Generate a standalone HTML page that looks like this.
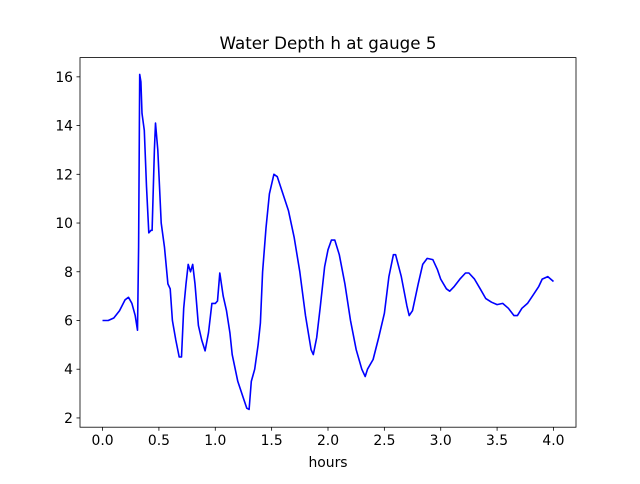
<!DOCTYPE html>
<html><head><meta charset="utf-8"><style>
body{margin:0;background:#fff;font-family:"DejaVu Sans","Liberation Sans",sans-serif;}
svg text{font-family:"DejaVu Sans","Liberation Sans",sans-serif;fill:#000;}
</style></head><body>
<svg id="chart" width="640" height="480" viewBox="0 0 640 480" xmlns="http://www.w3.org/2000/svg">
<rect width="640" height="480" fill="#fff"/>
<text x="328" y="49" font-size="16.7" text-anchor="middle">Water Depth h at gauge 5</text>
<g id="plot"></g>
<rect x="80" y="57.6" width="496" height="369.6" fill="none" stroke="#000" stroke-width="0.8"/>
<text x="328" y="467" font-size="13.9" text-anchor="middle">hours</text>
</svg>
<script>
const times=[0,0.05,0.1,0.15,0.2,0.23,0.26,0.29,0.31,0.32,0.33,0.34,0.35,0.37,0.39,0.41,0.43,0.44,0.46,0.47,0.49,0.52,0.55,0.58,0.6,0.62,0.65,0.68,0.70,0.72,0.74,0.76,0.78,0.80,0.82,0.85,0.88,0.91,0.94,0.97,1.0,1.02,1.04,1.07,1.1,1.13,1.15,1.2,1.25,1.28,1.30,1.32,1.35,1.38,1.40,1.42,1.45,1.48,1.52,1.55,1.6,1.65,1.7,1.75,1.8,1.85,1.87,1.9,1.93,1.97,2.0,2.03,2.06,2.1,2.15,2.2,2.25,2.3,2.33,2.35,2.4,2.45,2.5,2.54,2.58,2.6,2.65,2.7,2.72,2.75,2.8,2.84,2.88,2.93,2.97,3.0,3.05,3.08,3.12,3.17,3.22,3.25,3.3,3.35,3.4,3.45,3.5,3.55,3.6,3.65,3.68,3.72,3.77,3.82,3.87,3.9,3.95,4.0];
const depths=[6.0,6.0,6.1,6.4,6.85,6.95,6.7,6.2,5.6,9,16.1,15.8,14.5,13.8,11.5,9.6,9.7,9.7,13.0,14.1,13,10,9.0,7.5,7.3,6,5.2,4.5,4.5,6.5,7.5,8.3,8.0,8.3,7.5,5.8,5.2,4.75,5.5,6.7,6.7,6.8,7.95,7.0,6.4,5.5,4.6,3.5,2.8,2.4,2.35,3.5,4.0,5.0,5.9,8,9.8,11.2,12.0,11.9,11.2,10.5,9.4,8.0,6.2,4.8,4.6,5.3,6.5,8.2,8.9,9.3,9.3,8.7,7.5,6.0,4.8,4.0,3.7,4.0,4.4,5.3,6.3,7.8,8.7,8.7,7.8,6.6,6.2,6.4,7.5,8.3,8.55,8.5,8.1,7.7,7.3,7.2,7.4,7.7,7.95,7.95,7.7,7.3,6.9,6.75,6.65,6.7,6.5,6.2,6.2,6.5,6.7,7.05,7.4,7.7,7.8,7.6];
const xTicks=[0,0.5,1,1.5,2,2.5,3,3.5,4];
const xTickLabels=["0.0","0.5","1.0","1.5","2.0","2.5","3.0","3.5","4.0"];
const yTicks=[2,4,6,8,10,12,14,16];
const yTickLabels=["2","4","6","8","10","12","14","16"];
const L=80,R=576,T=57.6,B=427.2,xmin=-0.2,xmax=4.2,ymin=1.62,ymax=16.79;
const sx=v=>L+(v-xmin)/(xmax-xmin)*(R-L);
const sy=v=>B-(v-ymin)/(ymax-ymin)*(B-T);
const NS="http://www.w3.org/2000/svg";
const g=document.getElementById('plot');
function mk(tag,attrs){const e=document.createElementNS(NS,tag);for(const k in attrs)e.setAttribute(k,attrs[k]);g.appendChild(e);return e;}
xTicks.forEach((v,i)=>{
 const t=mk('line',{x1:sx(v),x2:sx(v),y1:B,y2:B+3.5,stroke:'#000','stroke-width':0.8});
 
 
 const l=mk('text',{x:sx(v),y:B+18,'font-size':13.9,'text-anchor':'middle'});
 l.textContent=xTickLabels[i];
 
 
});
yTicks.forEach((v,i)=>{
 const t=mk('line',{x1:L-3.5,x2:L,y1:sy(v),y2:sy(v),stroke:'#000','stroke-width':0.8});
 
 
 const l=mk('text',{x:L-7,y:sy(v)+5,'font-size':13.9,'text-anchor':'end'});
 l.textContent=yTickLabels[i];
 
 
});
const pts=times.map((t,i)=>sx(t).toFixed(1)+','+sy(depths[i]).toFixed(1)).join(' ');
const line=mk('polyline',{points:pts,fill:'none',stroke:'#0000ff','stroke-width':1.6,'stroke-linejoin':'round'});


</script>
</body></html>
